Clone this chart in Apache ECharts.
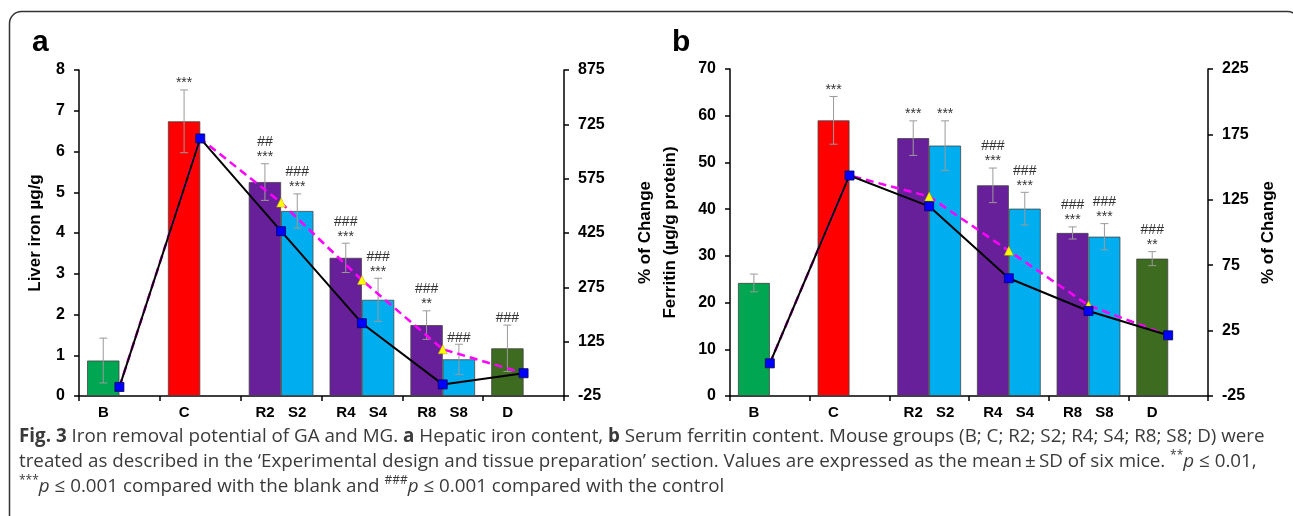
<!DOCTYPE html>
<html>
<head>
<meta charset="utf-8">
<script src="https://cdn.jsdelivr.net/npm/echarts@6/dist/echarts.min.js"></script>
<style>
  html, body { margin: 0; padding: 0; background: #fff; }
  #main { width: 1293px; height: 516px; }
</style>
</head>
<body>
<div id="main"></div>
<script>
// groups: B, C, R2/S2, R4/S4, R8/S8, D
var categories = ['B', 'C', 'R2/S2', 'R4/S4', 'R8/S8', 'D'];
var labelsR = ['B', 'C', 'R2', 'R4', 'R8', 'D'];
var labelsS = ['', '', 'S2', 'S4', 'S8', ''];

// a: liver iron (ug/g)
var ironR = [0.87, 6.74, 5.25, 3.39, 1.74, 1.17];
var ironRsd = [0.55, 0.77, 0.45, 0.36, 0.35, 0.57];
var ironS = [null, null, 4.54, 2.36, 0.90, null];
var ironSsd = [null, null, 0.42, 0.53, 0.37, null];
var ironChangeS = [0, 686, 430, 176, 7, 38];   // black line
var ironChangeR = [0, 686, 509, 295, 104, 38]; // magenta dashed
var ironMarksR = ['', '***', '##\n***', '###\n***', '###\n**', '###'];
var ironMarksS = ['', '', '###\n***', '###\n***', '###', ''];
var ironTicks = [0, 1, 2, 3, 4, 5, 6, 7, 8];
var ironChangeTicks = [-25, 125, 275, 425, 575, 725, 875];

// b: serum ferritin (ug/g protein)
var ferR = [24.2, 59.0, 55.2, 45.1, 34.9, 29.4];
var ferRsd = [1.9, 5.1, 3.7, 3.7, 1.3, 1.5];
var ferS = [null, null, 53.6, 40.1, 34.1, null];
var ferSsd = [null, null, 5.3, 3.5, 2.8, null];
var ferChangeS = [0, 143.6, 120, 65, 40, 21.4];
var ferChangeR = [0, 143.6, 127.5, 86, 44.3, 21.4];
var ferMarksR = ['', '***', '***', '###\n***', '###\n***', '###\n**'];
var ferMarksS = ['', '', '***', '###\n***', '###\n***', ''];
var ferTicks = [0, 10, 20, 30, 40, 50, 60, 70];
var ferChangeTicks = [-25, 25, 75, 125, 175, 225];

var FONT = '"Liberation Sans", Arial, sans-serif';
var CAP_FONT = '"Open Sans", sans-serif';
var groupColors = ['#00a651', '#ff0000', '#68209a', '#68209a', '#68209a', '#3d6b20'];
var sColor = '#00aeef';

var axisLineStyle = { color: '#000', width: 1.5 };
var tickFont = { fontSize: 16, fontWeight: 'bold', color: '#000', fontFamily: FONT };
var nameFont = { fontSize: 17, fontWeight: 'bold', color: '#000', fontFamily: FONT, lineHeight: 25 };

function xAxisFor(gi) {
    var lab = { width: 32, align: 'center', fontSize: 15, fontWeight: 'bold', color: '#000', fontFamily: FONT };
    return {
        type: 'category', gridIndex: gi, data: categories, boundaryGap: true,
        axisLine: { lineStyle: axisLineStyle },
        axisTick: { show: true, interval: 0, length: 5, lineStyle: axisLineStyle },
        axisLabel: {
            interval: 0, margin: 9,
            formatter: function (v, i) {
                return '{l|' + labelsR[i] + '}{r|' + (labelsS[i] || ' ') + '}';
            },
            rich: { l: lab, r: lab }
        },
        splitLine: { show: false }
    };
}

function yAxisFor(gi, pos, min, max, ticks, name, gap) {
    return {
        type: 'value', gridIndex: gi, position: pos, min: min, max: max,
        axisLine: { show: true, lineStyle: axisLineStyle },
        axisTick: { show: true, length: 5, lineStyle: axisLineStyle, customValues: ticks },
        axisLabel: Object.assign({ margin: 14, customValues: ticks }, tickFont),
        splitLine: { show: false },
        name: name, nameLocation: 'middle', nameGap: gap, nameTextStyle: nameFont
    };
}

// error bars with significance marks above them
function errSeries(xi, yi, vals, sds, marks, side) {
    var data = [];
    vals.forEach(function (v, i) {
        if (v != null) data.push([i, v, sds[i]]);
    });
    return {
        type: 'custom', xAxisIndex: xi, yAxisIndex: yi, z: 3, clip: false,
        encode: { x: 0, y: 1 },
        data: data,
        renderItem: function (params, api) {
            var i = api.value(0), v = api.value(1), sd = api.value(2);
            var band = api.size([1, 0])[0];
            var bw = band * 0.8 / 2;
            var x = api.coord([i, v])[0] + side * bw / 2;
            var top = api.coord([i, v + sd])[1];
            var bot = api.coord([i, v - sd])[1];
            var st = { stroke: '#9a9a9a', lineWidth: 1 };
            return {
                type: 'group',
                children: [
                    { type: 'line', shape: { x1: x, y1: bot, x2: x, y2: top }, style: st },
                    { type: 'line', shape: { x1: x - 4, y1: top, x2: x + 4, y2: top }, style: st },
                    { type: 'line', shape: { x1: x - 4, y1: bot, x2: x + 4, y2: bot }, style: st },
                    {
                        type: 'text', x: x, y: top + 1,
                        style: {
                            text: marks[i], align: 'center', verticalAlign: 'bottom',
                            fontSize: 14, lineHeight: 15, fontFamily: FONT, fill: '#333'
                        }
                    }
                ]
            };
        }
    };
}

function panelSeries(xi, yl, yr, vR, sdR, vS, sdS, chS, chR, mR, mS) {
    return [
        {
            type: 'bar', xAxisIndex: xi, yAxisIndex: yl, barGap: 0, barCategoryGap: '20%', z: 2,
            data: vR.map(function (v, i) { return { value: v, itemStyle: { color: groupColors[i] } }; }),
            itemStyle: { borderColor: '#444', borderWidth: 0.8 }
        },
        {
            type: 'bar', xAxisIndex: xi, yAxisIndex: yl, barGap: 0, barCategoryGap: '20%', z: 2,
            data: vS, itemStyle: { color: sColor, borderColor: '#444', borderWidth: 0.8 }
        },
        errSeries(xi, yl, vR, sdR, mR, -1),
        errSeries(xi, yl, vS, sdS, mS, 1),
        {
            type: 'line', xAxisIndex: xi, yAxisIndex: yr, data: chR, z: 4,
            symbol: 'triangle', symbolSize: 9,
            lineStyle: { color: '#ff00ff', width: 2.5, type: [8, 5] },
            itemStyle: { color: '#ffff00', borderColor: '#b8a000', borderWidth: 0.5 }
        },
        {
            type: 'line', xAxisIndex: xi, yAxisIndex: yr, data: chS, z: 5,
            symbol: 'rect', symbolSize: 9,
            lineStyle: { color: '#000', width: 2 },
            itemStyle: { color: '#0000ff', borderColor: '#000060', borderWidth: 0.8 }
        }
    ];
}

var capSize = 18.8;
var capFont = { fontSize: capSize, fontFamily: CAP_FONT, fill: '#3a3a3a' };
var capRich = {
    b: { fontWeight: 'bold', fontSize: capSize, fontFamily: CAP_FONT, fill: '#3a3a3a', lineHeight: 25 },
    i: { fontStyle: 'italic', fontSize: capSize, fontFamily: CAP_FONT, fill: '#3a3a3a', lineHeight: 25 },
    s: { fontSize: 12, fontFamily: CAP_FONT, fill: '#3a3a3a', verticalAlign: 'top', lineHeight: 25 },
    n: { fontSize: capSize, fontFamily: CAP_FONT, fill: '#3a3a3a', lineHeight: 25 }
};
var capLines = [
    '{b|Fig. 3}{n| Iron removal potential of GA and MG. }{b|a}{n| Hepatic iron content, }{b|b}{n| Serum ferritin content. Mouse groups (B; C; R2; S2; R4; S4; R8; S8; D) were}',
    '{n|treated as described in the \u2018Experimental design and tissue preparation\u2019 section. Values are expressed as the mean\u2009\u00b1\u2009SD of six mice. }{s|**}{i|p}{n| \u2264 0.01,}',
    '{s|***}{i|p}{n| \u2264 0.001 compared with the blank and }{s|###}{i|p}{n| \u2264 0.001 compared with the control}'
];

var chart = echarts.init(document.getElementById('main'));
chart.setOption({
    animation: false,
    backgroundColor: '#fff',
    grid: [
        { left: 79, right: 729, top: 70, bottom: 120, containLabel: false, outerBoundsMode: 'none' },
        { left: 730, right: 85, top: 69, bottom: 120, containLabel: false, outerBoundsMode: 'none' }
    ],
    xAxis: [xAxisFor(0), xAxisFor(1)],
    yAxis: [
        yAxisFor(0, 'left', 0, 8, ironTicks, 'Liver iron \u00b5g/g', 31),
        yAxisFor(0, 'right', -25, 875, ironChangeTicks, '', 40),
        yAxisFor(1, 'left', 0, 70, ferTicks, '% of Change\nFerritin (\u00b5g/g protein)', 47),
        yAxisFor(1, 'right', -25, 225, ferChangeTicks, '% of Change', 48)
    ],
    series: [].concat(
        panelSeries(0, 0, 1, ironR, ironRsd, ironS, ironSsd, ironChangeS, ironChangeR, ironMarksR, ironMarksS),
        panelSeries(1, 2, 3, ferR, ferRsd, ferS, ferSsd, ferChangeS, ferChangeR, ferMarksR, ferMarksS)
    ),
    graphic: [
        {
            type: 'rect', z: -1, silent: true,
            shape: { x: 9.5, y: 11.5, width: 1290, height: 540, r: 12 },
            style: { fill: 'none', stroke: '#333', lineWidth: 1.5 }
        },
        { type: 'text', x: 32, y: 43, style: { text: 'a', font: 'bold 30px ' + FONT, fill: '#000', verticalAlign: 'middle' } },
        { type: 'text', x: 672, y: 43, style: { text: 'b', font: 'bold 30px ' + FONT, fill: '#000', verticalAlign: 'middle' } },
        { type: 'text', x: 19, y: 437, style: Object.assign({ text: capLines[0], rich: capRich, verticalAlign: 'middle' }, capFont) },
        { type: 'text', x: 19, y: 462, style: Object.assign({ text: capLines[1], rich: capRich, verticalAlign: 'middle' }, capFont) },
        { type: 'text', x: 19, y: 487, style: Object.assign({ text: capLines[2], rich: capRich, verticalAlign: 'middle' }, capFont) }
    ]
});
</script>
</body>
</html>
